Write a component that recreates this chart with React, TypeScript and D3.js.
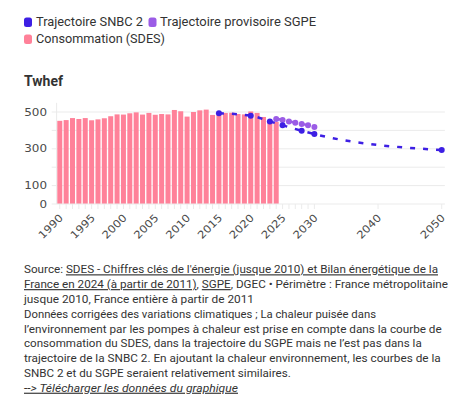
import React from 'react';
import * as d3 from 'd3';

// ---------- DATA ----------
const consoYears = [1990, 1991, 1992, 1993, 1994, 1995, 1996, 1997, 1998, 1999, 2000, 2001, 2002, 2003, 2004, 2005, 2006, 2007, 2008, 2009, 2010, 2011, 2012, 2013, 2014, 2015, 2016, 2017, 2018, 2019, 2020, 2021, 2022, 2023, 2024];
const consoValues = [452, 456, 467, 462, 467, 455, 460, 466, 477, 487, 486, 493, 498, 486, 495, 485, 489, 487, 511, 504, 475, 500, 509, 513, 484, 495, 495, 496, 489, 487, 503, 495, 473, 457, 446];

const snbcYears = [2015, 2020, 2023, 2025, 2028, 2030, 2050];
const snbcValues = [493, 480, 449, 428, 398, 380, 293];

const sgpeYears = [2024, 2025, 2026, 2027, 2028, 2029, 2030];
const sgpeValues = [462, 457, 449, 442, 435, 428, 418];

const yLabelTicks = [0, 100, 300, 500];
const yGridTicks = [100, 200, 300, 400, 500];
const xLabelYears = [1990, 1995, 2000, 2005, 2010, 2015, 2020, 2025, 2030, 2040, 2050];
const xTickYears = [1990, 1991, 1992, 1993, 1994, 1995, 1996, 1997, 1998, 1999, 2000, 2001, 2002, 2003, 2004, 2005, 2006, 2007, 2008, 2009, 2010, 2011, 2012, 2013, 2014, 2015, 2016, 2017, 2018, 2019, 2020, 2021, 2022, 2023, 2024, 2025, 2026, 2027, 2028, 2029, 2030, 2040, 2050];

const legendLabels = ['Trajectoire SNBC 2', 'Trajectoire provisoire SGPE', 'Consommation (SDES)'];
const unitLabel = 'Twhef';

type Seg = { t: string; u?: boolean };
const sourceLines: Seg[][] = [
  [{ t: 'Source: ' }, { t: "SDES - Chiffres clés de l'énergie (jusque 2010) et Bilan énergétique de la", u: true }],
  [{ t: 'France en 2024 (à partir de 2011)', u: true }, { t: ', ' }, { t: 'SGPE', u: true }, { t: ', DGEC • Périmètre : France métropolitaine' }],
  [{ t: 'jusque 2010, France entière à partir de 2011' }],
  [{ t: 'Données corrigées des variations climatiques ; La chaleur puisée dans' }],
  [{ t: 'l’environnement par les pompes à chaleur est prise en compte dans la courbe de' }],
  [{ t: 'consommation du SDES, dans la trajectoire du SGPE mais ne l’est pas dans la' }],
  [{ t: 'trajectoire de la SNBC 2. En ajoutant la chaleur environnement, les courbes de la' }],
  [{ t: 'SNBC 2 et du SGPE seraient relativement similaires.' }],
];
const downloadLabel = '--> Télécharger les données du graphique';

// ---------- LAYOUT ----------
const W = 472;
const H = 402;
const BLUE = '#3d1fe4';
const PURPLE = '#9b5ce6';
const PINK = '#ff8199';
const GRID = '#ebebeb';
const TEXT = '#333333';
const AXIS_TEXT = '#4a4a4a';
const FONT = 'Roboto, "Noto Sans", sans-serif';
const sourceWidths = [414, 424, 230, 352, 417.7, 397.7, 416.7, 266.7];
const downloadWidth = 214;

export default function App() {
  const x = d3.scaleLinear().domain([1989.5, 2050.5]).range([56.6, 444.9]);
  const y = d3.scaleLinear().domain([0, 550]).range([204, 102.8]);
  const barW = 5;

  const lineGen = d3
    .line<[number, number]>()
    .x((d) => x(d[0]))
    .y((d) => y(d[1]))
    .curve(d3.curveMonotoneX);

  const snbcPts: [number, number][] = snbcYears.map((yr, i) => [yr, snbcValues[i]]);
  const sgpePts: [number, number][] = sgpeYears.map((yr, i) => [yr, sgpeValues[i]]);

  const legendColors = [BLUE, PURPLE, PINK];
  const legendPos = [
    { x: 24, y: 17.5, tx: 36, ty: 26, tw: 107 },
    { x: 148.5, y: 17.5, tx: 160, ty: 26, tw: 156 },
    { x: 24, y: 34.5, tx: 36, ty: 43, tw: 129 },
  ];

  return (
    <svg
      width={W}
      height={H}
      style={{ position: 'absolute', left: 0, top: 0, background: '#fff' }}
      fontFamily={FONT}
    >
      {/* Legend */}
      {legendLabels.map((lab, i) => (
        <g key={lab}>
          <rect x={legendPos[i].x} y={legendPos[i].y} width={8} height={9.5} rx={2.5} fill={legendColors[i]} />
          <text x={legendPos[i].tx} y={legendPos[i].ty} fontSize={13} fill={TEXT} textLength={legendPos[i].tw} lengthAdjust="spacingAndGlyphs">
            {lab}
          </text>
        </g>
      ))}

      {/* Unit title */}
      <text x={24} y={86} fontSize={14} fontWeight={700} fill={TEXT}>
        {unitLabel}
      </text>

      {/* Gridlines */}
      {yGridTicks.map((v) => (
        <g key={'g' + v}>
          <line x1={51.7} x2={444.9} y1={y(v)} y2={y(v)} stroke={GRID} strokeWidth={1} />
        </g>
      ))}
      {/* y axis line */}
      <line x1={56.6} x2={56.6} y1={102.8} y2={204} stroke={GRID} strokeWidth={1} />

      {/* y labels */}
      {yLabelTicks.map((v) => (
        <text
          key={'yl' + v}
          x={47}
          y={y(v)}
          dy="0.35em"
          textAnchor="end"
          fontSize={10.5}
          fill={AXIS_TEXT}
          fontFamily='"DejaVu Sans", sans-serif'
          textLength={String(v).length * 7.6}
          lengthAdjust="spacingAndGlyphs"
        >
          {v}
        </text>
      ))}

      {/* Bars */}
      {consoYears.map((yr, i) => (
        <rect
          key={'b' + yr}
          x={x(yr) - barW / 2}
          y={y(consoValues[i])}
          width={barW}
          height={y(0) - y(consoValues[i])}
          fill={PINK}
        />
      ))}

      {/* x axis */}
      <line x1={51.7} x2={444.9} y1={y(0)} y2={y(0)} stroke={GRID} strokeWidth={1} />
      {xTickYears.map((yr) => (
        <line key={'xt' + yr} x1={x(yr)} x2={x(yr)} y1={y(0)} y2={y(0) + 5} stroke={GRID} strokeWidth={1} />
      ))}
      {xLabelYears.map((yr) => (
        <text
          key={'xl' + yr}
          transform={`translate(${x(yr) + 4},${218.5}) rotate(-45)`}
          textAnchor="end"
          fontSize={10.5}
          fill={AXIS_TEXT}
          fontFamily='"DejaVu Sans", sans-serif'
          textLength={String(yr).length * 7.4}
          lengthAdjust="spacingAndGlyphs"
        >
          {yr}
        </text>
      ))}

      {/* SGPE */}
      <path d={lineGen(sgpePts) || ''} fill="none" stroke={PURPLE} strokeWidth={2.5} strokeDasharray="5 8" />
      {sgpePts.map((p) => (
        <circle key={'sg' + p[0]} cx={x(p[0])} cy={y(p[1])} r={3} fill={PURPLE} />
      ))}

      {/* SNBC */}
      <path d={lineGen(snbcPts) || ''} fill="none" stroke={BLUE} strokeWidth={2.5} strokeDasharray="5 8" />
      {snbcPts.map((p) => (
        <circle key={'sn' + p[0]} cx={x(p[0])} cy={y(p[1])} r={3} fill={BLUE} />
      ))}

      {/* Source */}
      {sourceLines.map((segs, i) => (
        <text
          key={'s' + i}
          x={24}
          y={273.3 + i * 14.8}
          fontSize={11.5}
          fill={TEXT}
          textLength={sourceWidths[i]}
          lengthAdjust="spacingAndGlyphs"
        >
          {segs.map((s, j) => (
            <tspan key={j} textDecoration={s.u ? 'underline' : undefined} style={s.u ? { textDecoration: 'underline' } : undefined}>
              {s.t}
            </tspan>
          ))}
        </text>
      ))}
      <text
        x={24}
        y={273.3 + 8 * 14.8}
        fontSize={11.5}
        fill={TEXT}
        fontStyle="italic"
        textLength={downloadWidth}
        lengthAdjust="spacingAndGlyphs"
        style={{ textDecoration: 'underline' }}
      >
        {downloadLabel}
      </text>
    </svg>
  );
}
